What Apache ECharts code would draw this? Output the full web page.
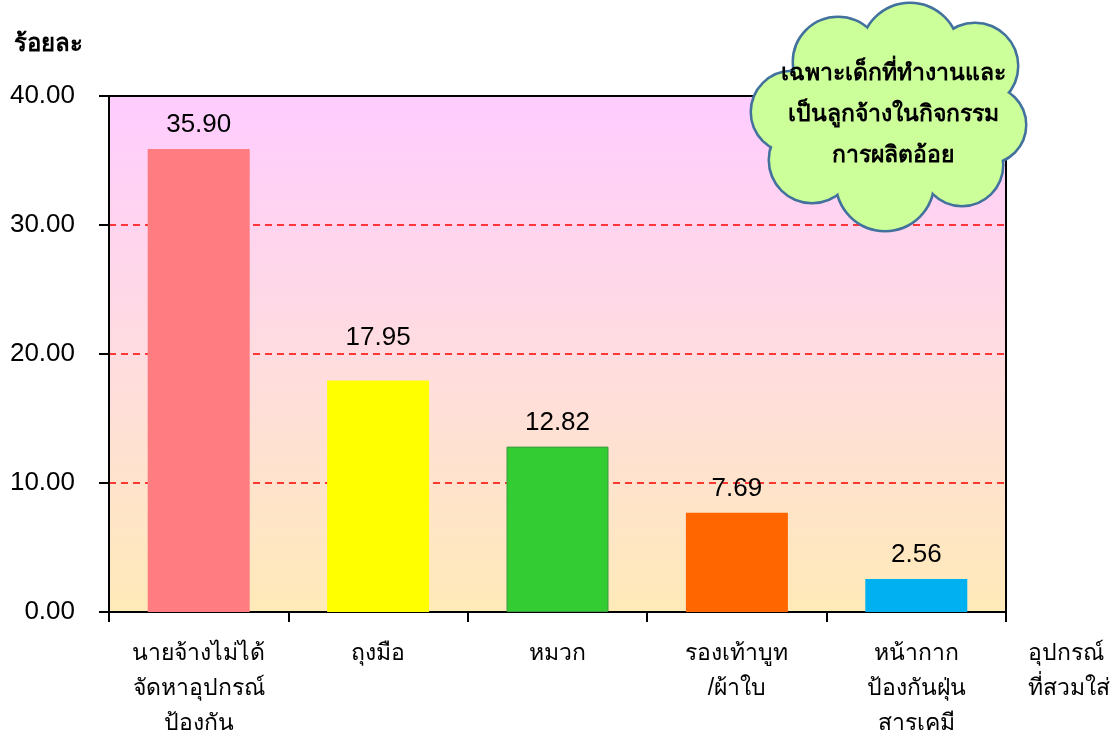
<!DOCTYPE html>
<html lang="th" style="height: 100%">
<head>
  <meta charset="utf-8">
</head>
<body style="height: 100%; margin: 0; background: #fff">
  <div id="container" style="width: 1115px; height: 744px"></div>

  <script type="text/javascript" src="https://cdn.jsdelivr.net/npm/echarts@6/dist/echarts.min.js"></script>

  <script type="text/javascript">
    var categories = [
      'นายจ้างไม่ได้\nจัดหาอุปกรณ์\nป้องกัน',
      'ถุงมือ',
      'หมวก',
      'รองเท้าบูท\n/ผ้าใบ',
      'หน้ากาก\nป้องกันฝุ่น\nสารเคมี'
    ];
    var values = [35.90, 17.95, 12.82, 7.69, 2.56];
    var barColors = ['#FF7C80', '#FFFF00', '#33CC33', '#FF6600', '#00B0F0'];
    var yTicks = [0, 10, 20, 30, 40];
    var cloudLines = 'เฉพาะเด็กที่ทำงานและ\nเป็นลูกจ้างในกิจกรรม\nการผลิตอ้อย';

    var FONT = '"Liberation Sans", "DejaVu Sans", sans-serif';

    var dom = document.getElementById('container');
    var myChart = echarts.init(dom, null, { renderer: 'canvas' });

    // cloud made from overlapping circles: stroked layer first, then fill on top
    var lobes = [
      [838, 62, 44], [910, 52, 48], [975, 66, 42], [987, 125, 38],
      [962, 165, 40], [885, 182, 48], [812, 160, 42], [792, 112, 40], [890, 115, 80]
    ];
    var cloud = [];
    lobes.forEach(function (c) {
      cloud.push({
        type: 'circle', z: 10,
        shape: { cx: c[0], cy: c[1], r: c[2] },
        style: { fill: '#CCFF99', stroke: '#41719C', lineWidth: 5 }
      });
    });
    lobes.forEach(function (c) {
      cloud.push({
        type: 'circle', z: 11,
        shape: { cx: c[0], cy: c[1], r: c[2] },
        style: { fill: '#CCFF99' }
      });
    });
    cloud.push({
      type: 'text', z: 12,
      x: 893, y: 115,
      style: {
        text: cloudLines, align: 'center', verticalAlign: 'middle',
        font: 'bold 23px ' + FONT, lineHeight: 41, fill: '#000'
      }
    });

    var option = {
      animation: false,
      grid: {
        left: 109, right: 109, top: 96, bottom: 132,
        show: true,
        borderWidth: 0,
        backgroundColor: new echarts.graphic.LinearGradient(0, 0, 0, 1, [
          { offset: 0, color: '#FFCCFF' },
          { offset: 0.5, color: '#FFDCE0' },
          { offset: 1, color: '#FFEAB8' }
        ])
      },
      xAxis: [
        {
          type: 'category',
          data: categories,
          axisLine: { lineStyle: { color: '#000', width: 2 } },
          axisTick: { show: true, length: 10, lineStyle: { color: '#000', width: 2 } },
          axisLabel: {
            color: '#000', fontFamily: FONT, fontSize: 23, lineHeight: 35,
            margin: 24, verticalAlign: 'top', interval: 0
          },
          name: 'อุปกรณ์\nที่สวมใส่',
          nameLocation: 'end',
          nameGap: 22,
          nameTextStyle: {
            color: '#000', fontFamily: FONT, fontSize: 23, lineHeight: 35,
            align: 'left', verticalAlign: 'top', padding: [24, 0, 0, 0]
          }
        },
        {
          type: 'category', position: 'top', z: 5,
          data: categories,
          axisLine: { onZero: false, lineStyle: { color: '#000', width: 2 } },
          axisTick: { show: false }, axisLabel: { show: false }
        }
      ],
      yAxis: [
        {
          type: 'value', min: 0, max: 40, interval: 10,
          axisLine: { show: true, lineStyle: { color: '#000', width: 2 } },
          axisTick: { show: true, length: 10, lineStyle: { color: '#000', width: 2 } },
          axisLabel: {
            color: '#000', fontFamily: FONT, fontSize: 26, margin: 34,
            formatter: function (v) { return yTicks.indexOf(v) >= 0 ? v.toFixed(2) : ''; }
          },
          splitLine: {
            show: true, showMinLine: false, showMaxLine: false,
            lineStyle: { color: '#FF0000', type: [7, 5], width: 1.5 }
          },
          name: 'ร้อยละ',
          nameLocation: 'end',
          nameGap: 40,
          nameTextStyle: {
            color: '#000', fontFamily: FONT, fontSize: 24, fontWeight: 'bold',
            align: 'right', padding: [0, 26, 0, 0]
          }
        },
        {
          type: 'value', position: 'right', min: 0, max: 40, interval: 10, z: 5,
          axisLine: { show: true, lineStyle: { color: '#000', width: 2 } },
          axisTick: { show: false }, axisLabel: { show: false }, splitLine: { show: false }
        }
      ],
      series: [
        {
          type: 'bar',
          barWidth: 102,
          data: values.map(function (v, i) {
            var item = {
              value: v,
              itemStyle: { color: barColors[i] }
            };
            if (i === 2) item.itemStyle.borderColor = '#3C9A3C';
            if (i === 2) item.itemStyle.borderWidth = 1;
            if (i === 1) item.label = { offset: [0, -19] };
            return item;
          }),
          label: {
            show: true, position: 'top', distance: 11,
            color: '#000', fontFamily: FONT, fontSize: 26,
            formatter: function (p) { return p.value.toFixed(2); }
          }
        }
      ],
      graphic: cloud
    };

    myChart.setOption(option);
    window.addEventListener('resize', myChart.resize);
  </script>
</body>
</html>
